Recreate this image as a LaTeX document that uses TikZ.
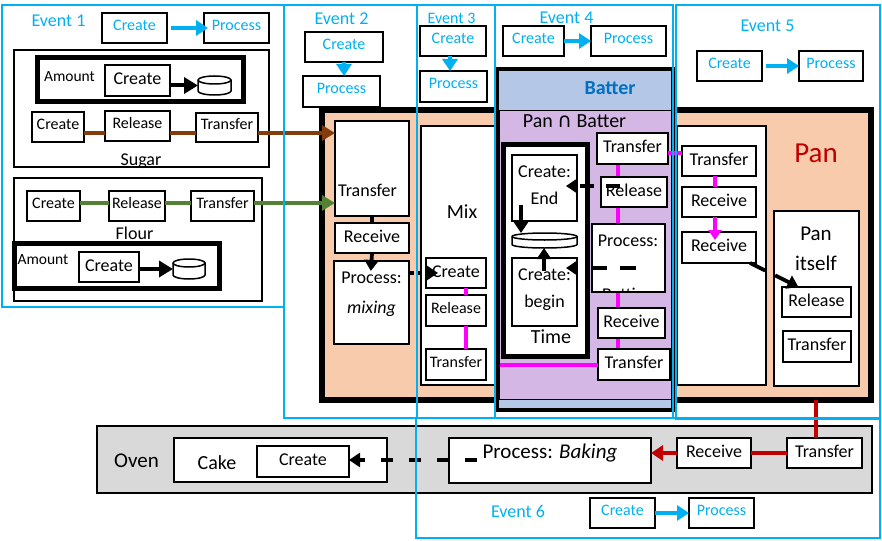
\documentclass[tikz,border=0pt]{standalone}
\usepackage{fontspec}
\setmainfont{Carlito}
\newfontfamily\symfont{DejaVu Sans}
\usetikzlibrary{arrows.meta}

\definecolor{evblue}{RGB}{0,176,240}
\definecolor{panfill}{RGB}{248,203,173}
\definecolor{batfill}{RGB}{180,199,231}
\definecolor{battxt}{RGB}{0,112,192}
\definecolor{pbfill}{RGB}{213,183,230}
\definecolor{sugarln}{RGB}{133,60,12}
\definecolor{flourln}{RGB}{84,130,53}
\definecolor{panred}{RGB}{192,0,0}
\definecolor{ovenfill}{RGB}{217,217,217}
\definecolor{linkmag}{RGB}{255,0,255}

\newcommand\fsz[1]{\fontsize{#1}{#1}\selectfont}

% storage drum drawn inside a placeholder node: name, x radius, y radius
\newcommand\drum[3]{%
  \draw[line width=1.5pt, fill=white]
    ([yshift=-#3]#1.north west) -- ([yshift=#3]#1.south west)
    arc[start angle=180, end angle=360, x radius=#2, y radius=#3]
    -- ([yshift=-#3]#1.north east)
    arc[start angle=0, end angle=180, x radius=#2, y radius=#3] -- cycle;
  \draw[line width=1.5pt] ([yshift=-#3]#1.north west)
    arc[start angle=180, end angle=360, x radius=#2, y radius=#3];
}

\tikzset{
  wh/.style 2 args={minimum width=#1pt, minimum height=#2pt},
  box/.style={draw, line width=1.7pt, fill=white, inner sep=0pt, outer sep=0pt,
    font=\fsz{18}, text height=12.5pt, text depth=4.5pt},
  sbox/.style={box, font=\fsz{16}, text height=11pt, text depth=6pt},
  bluebox/.style={sbox, text=evblue},
  holder/.style={draw, line width=1.7pt, fill=white, inner sep=0pt, outer sep=0pt},
  heavy/.style={holder, line width=5pt},
  slot/.style={inner sep=0pt, outer sep=0pt},
  lbl/.style={inner sep=0pt, outer sep=0pt, anchor=base},
  evframe/.style={draw=evblue, line width=2.2pt},
  blkarr/.style={line width=3.8pt, -{Triangle[width=14pt,length=11pt]}},
  bigarr/.style={line width=4pt, -{Triangle[width=16pt,length=14pt]}},
  dasharr/.style={blkarr, dash pattern=on 14pt off 12pt},
  bluarr/.style={draw=evblue, line width=4.5pt, -{Triangle[width=15pt,length=12pt]}},
  sugarlink/.style={draw=sugarln, line width=4pt},
  flourlink/.style={draw=flourln, line width=4pt},
  maglink/.style={draw=linkmag, line width=3.5pt},
  panlink/.style={draw=panred, line width=3.5pt},
}

\begin{document}
\begin{tikzpicture}[x=1pt,y=-1pt]
\useasboundingbox (0,0) rectangle (882,540);

% ---------------- sugar
\node[holder, wh={255}{117}] (sugar) at (141.5,108.5) {};
\node[heavy, wh={206}{44}] (amt1) at (140,80) {};
\node[lbl, font=\fsz{15.5}] (amt1lbl) at (69.5,82) {Amount};
\node[box, wh={65}{31}] (amt1c) at (137.5,80.5) {Create};
\node[slot, wh={33}{19}] (cyl1) at (214.5,85.5) {};
\drum{cyl1}{16.5pt}{4pt}
\draw[bigarr] (amt1c.east |- cyl1.west) -- (cyl1.west);
\node[sbox, wh={52}{30}] (s1c) at (58,127) {Create};
\node[sbox, wh={65}{30}] (s1r) at (137.5,126) {Release};
\node[sbox, wh={62}{29}] (s1t) at (227,127.5) {Transfer};
\node[lbl, font=\fsz{18}] (sugarlbl) at (141,165) {Sugar};

% ---------------- flour
\node[holder, wh={248}{123}] (flour) at (138,239.5) {};
\node[sbox, wh={53}{30}] (f1c) at (53.5,206) {Create};
\node[sbox, wh={56}{30}] (f1r) at (137,206) {Release};
\node[sbox, wh={63}{30}] (f1t) at (222.5,206) {Transfer};
\node[lbl, font=\fsz{18}] (flourlbl) at (134.5,239) {Flour};
\node[heavy, wh={205}{45}] (amt2) at (116.5,265.5) {};
\node[lbl, font=\fsz{15.5}] (amt2lbl) at (43,264) {Amount};
\node[box, wh={60}{30}] (amt2c) at (109,267) {Create};
\node[slot, wh={32}{20}] (cyl2) at (189,269) {};
\drum{cyl2}{16pt}{4pt}
\draw[bigarr] (amt2c.east |- cyl2.west) -- (cyl2.west);

% ---------------- pan
\node[holder, fill=panfill, line width=5.5pt, wh={549}{290}] (pan) at (596.5,255) {};
\node[lbl, font=\fsz{29}, text=panred] (panname) at (816,162) {Pan};

% mixing step
\node[holder, wh={74}{95}] (e2t) at (372,168.5) {};
\node[lbl, font=\fsz{18}] (e2ttxt) at (367.5,196) {Transfer};
\node[box, wh={74}{30}] (e2r) at (372,238) {Receive};
\node[holder, wh={75}{83}] (e2m) at (371.5,302.5) {};
\node[lbl, font=\fsz{18}] (e2mtxt) at (371.5,283) {Process:};
\node[lbl, font=\fsz{18}\itshape] (e2mtxtb) at (371.5,313) {mixing};
\draw[line width=3.8pt] (e2t.south) -- (e2r.north);
\draw[blkarr, shorten >=-10pt] (e2r.south) -- (e2m.north);

% mix
\node[holder, wh={75}{259}] (mixbox) at (458.5,255.5) {};
\node[lbl, font=\fsz{20}] (mixlbl) at (462,218) {Mix};
\node[box, wh={60}{30}] (mixc) at (456,273) {Create};
\node[sbox, wh={60}{31}] (mixr) at (456,310.5) {Release};
\node[sbox, wh={60}{31}] (mixt) at (456,364.5) {Transfer};
\draw[maglink] ([xshift=10pt]mixc.south) -- ([xshift=10pt]mixr.north);
\draw[maglink] ([xshift=10pt]mixr.south) -- ([xshift=10pt]mixt.north);
\draw[blkarr, dash pattern=on 5pt off 3pt, shorten >=-12pt] (e2m.east |- mixc) -- (mixc.west);

% pan handling
\node[holder, wh={89}{259}] (p5box) at (721.5,255.5) {};
\node[box, wh={74}{30}] (p5t) at (719,161) {Transfer};
\node[box, wh={74}{30}] (p5r1) at (719,202) {Receive};
\node[box, wh={74}{31}] (p5r2) at (719,247.5) {Receive};
\draw[maglink] ([xshift=-4pt]p5t.south) -- ([xshift=-4pt]p5r1.north);
\draw[maglink, -{Triangle[width=13pt,length=10pt]}, shorten >=-8pt]
  ([xshift=-4pt]p5r1.south) -- ([xshift=-4pt]p5r2.north);
\node[holder, wh={85}{175}] (panit) at (816.5,298.5) {};
\node[lbl, font=\fsz{21}] (panittxt) at (816,240) {Pan};
\node[lbl, font=\fsz{21}] (panittxtb) at (816,270) {itself};
\node[box, wh={69}{30}] (pir) at (816.5,302) {Release};
\node[box, wh={68}{31}] (pit) at (817,346.5) {Transfer};
\draw[blkarr, dash pattern=on 17pt off 11pt]
  ([xshift=-6pt]p5r2.south east) -- ([xshift=-18pt]pir.north);

% ---------------- batter
\node[holder, fill=batfill, line width=4pt, wh={176}{341}] (batter) at (585,239.5) {};
\node[draw, line width=0.6pt, fill=pbfill, inner sep=0pt, outer sep=0pt, wh={172}{289}] (panbat) at (585,254.5) {};
\node[lbl, font=\fsz{20}\bfseries, text=battxt] (batlbl) at (610,95) {Batter};
\node[lbl, font=\fsz{20}] (pblbl) at (574.5,128) {Pan {\symfont ∩} Batter};

\node[heavy, wh={84}{211}] (timebox) at (545,250.5) {};
\node[holder, wh={65}{66}] (tend) at (544.5,188) {};
\node[lbl, font=\fsz{18}] (tendtxt) at (544.5,177) {Create:};
\node[lbl, font=\fsz{18}] (tendtxtb) at (544.5,204) {End};
\node[slot, wh={65}{15}] (tdisk) at (544.5,240.5) {};
\drum{tdisk}{32.5pt}{3.5pt}
\node[holder, wh={65}{68}] (tbegin) at (544.5,292) {};
\node[lbl, font=\fsz{18}] (tbegtxt) at (544.5,280) {Create:};
\node[lbl, font=\fsz{18}] (tbegtxtb) at (544.5,307) {begin};
\node[lbl, font=\fsz{20}] (timelbl) at (551,343) {Time};
\coordinate (tendtail) at (521,205);
\coordinate (tbegtail) at (544,271);
\draw[blkarr] (tendtail) -- (tendtail |- tdisk.north);
\draw[blkarr] (tbegtail) -- (tbegtail |- tdisk.south);

\draw[maglink] (618,164) -- (618,349);
\node[box, wh={71}{31}] (bt1) at (632.5,148.5) {Transfer};
\node[box, wh={66}{30}] (br) at (634,192) {Release};
\node[holder, wh={73}{68}] (bproc) at (628.5,258) {};
\node[lbl, font=\fsz{18}] (bproctxt) at (628,246) {Process:};
\begin{scope}
  \clip ([xshift=1pt,yshift=-1pt]bproc.north west) rectangle ([xshift=-1pt,yshift=1pt]bproc.south east);
  \node[lbl, font=\fsz{18}] (bproctxtb) at (628,300) {Batting};
\end{scope}
\node[box, wh={67}{30}] (brecv) at (631.5,323) {Receive};
\node[box, wh={72}{31}] (bt2) at (634,364.5) {Transfer};

\coordinate (mixlink) at (500,365);
\draw[maglink] (mixlink) -- (bt2.west |- mixlink);
\coordinate (bprow) at (0,153);
\draw[maglink] (bt1.east |- bprow) -- (p5t.west |- bprow);

\coordinate (brtail) at (620,186);
\coordinate (bproctail) at (636,268);
\draw[dasharr, shorten >=-11pt] (brtail) -- (tend.east |- brtail);
\draw[blkarr, dash pattern=on 16pt off 13pt, shorten >=-11pt] (bproctail) -- (tbegin.east |- bproctail);

% ---------------- material flows into mixing
\coordinate (sugarrow) at (0,133);
\draw[sugarlink] (s1c.east |- sugarrow) -- (s1r.west |- sugarrow);
\draw[sugarlink] (s1r.east |- sugarrow) -- (s1t.west |- sugarrow);
\draw[sugarlink, -{Triangle[width=15pt,length=13pt]}] (s1t.east |- sugarrow) -- (e2t.west |- sugarrow);
\coordinate (flourrow) at (0,203);
\draw[flourlink] (f1c.east |- flourrow) -- (f1r.west |- flourrow);
\draw[flourlink] (f1r.east |- flourrow) -- (f1t.west |- flourrow);
\draw[flourlink, -{Triangle[width=15pt,length=13pt]}] (f1t.east |- flourrow) -- (e2t.west |- flourrow);

% ---------------- oven
\node[holder, fill=ovenfill, wh={775}{67}] (oven) at (484.5,459.5) {};
\node[lbl, font=\fsz{21}] (ovenlbl) at (136.5,467) {Oven};
\node[holder, wh={213}{44}] (cake) at (280.5,460) {};
\node[lbl, font=\fsz{20}] (cakelbl) at (217,469) {Cake};
\node[box, wh={92}{31}] (ovc) at (303,461.5) {Create};
\node[holder, wh={202}{45}] (bake) at (550,460.5) {};
\node[lbl, font=\fsz{21}] (baketxt) at (550,458) {Process: \textit{Baking}};
\node[box, wh={74}{30}] (ovr) at (714,453) {Receive};
\node[box, wh={75}{30}] (ovt) at (824.5,453) {Transfer};
\draw[panlink] ([xshift=-8.5pt]ovt.north) -- ([xshift=-8.5pt]ovt.north |- pan.south);
\draw[panlink] (ovt.west) -- (ovr.east);
\draw[panlink, -{Triangle[width=15pt,length=12pt]}] (ovr.west) -- (bake.east |- ovr.west);
\coordinate (baketail) at (477,460);
\draw[blkarr, dash pattern=on 12pt off 16pt] (baketail) -- (ovc.east |- baketail);

% ---------------- event headers
\node[bluebox, wh={65}{30}] (e1c) at (134.5,28) {Create};
\node[bluebox, wh={65}{30}] (e1p) at (236.5,28) {Process};
\draw[bluarr, shorten <=4pt, shorten >=-4pt] (e1c.east) -- (e1p.west);
\node[bluebox, wh={78}{30}] (e2c) at (344,47) {Create};
\node[bluebox, wh={77}{31}] (e2p) at (341.5,91.5) {Process};
\draw[bluarr] (e2c.south) -- (e2c.south |- e2p.north);
\node[bluebox, wh={66}{30}] (e3c) at (453,41) {Create};
\node[bluebox, wh={67}{31}] (e3p) at (453.5,86.5) {Process};
\draw[bluarr] ([xshift=-3pt]e3c.south) -- ([xshift=-3pt]e3c.south |- e3p.north);
\node[bluebox, wh={61}{30}] (e4c) at (533.5,41) {Create};
\node[bluebox, wh={75}{30}] (e4p) at (628.5,41) {Process};
\draw[bluarr] (e4c.east) -- (e4p.west);
\node[bluebox, wh={65}{30}] (e5c) at (729.5,66) {Create};
\node[bluebox, wh={64}{30}] (e5p) at (831,66) {Process};
\draw[bluarr, shorten <=4pt] (e5c.east) -- (e5p.west);
\node[bluebox, wh={65}{30}] (e6c) at (622.5,513) {Create};
\node[bluebox, wh={65}{30}] (e6p) at (721.5,513) {Process};
\draw[bluarr] (e6c.east) -- (e6p.west);

\node[lbl, font=\fsz{18}, text=evblue] (ev1lbl) at (58.5,27) {Event 1};
\node[lbl, font=\fsz{18}, text=evblue] (ev2lbl) at (341.5,24.5) {Event 2};
\node[lbl, font=\fsz{16}, text=evblue] (ev3lbl) at (451.5,24) {Event 3};
\node[lbl, font=\fsz{18}, text=evblue] (ev4lbl) at (566.5,24) {Event 4};
\node[lbl, font=\fsz{18}, text=evblue] (ev5lbl) at (767.5,32) {Event 5};
\node[lbl, font=\fsz{18}, text=evblue] (ev6lbl) at (518,517) {Event 6};

% ---------------- event frames
\draw[evframe] (2,5) rectangle (284,307);
\draw[evframe] (284,5) rectangle (417,418);
\draw[evframe] (417,5) rectangle (495,418);
\draw[evframe] (495,5) rectangle (673,418);
\draw[evframe] (676,5) rectangle (880,419);
\draw[evframe] (416,418) rectangle (880,538);
\end{tikzpicture}
\end{document}
